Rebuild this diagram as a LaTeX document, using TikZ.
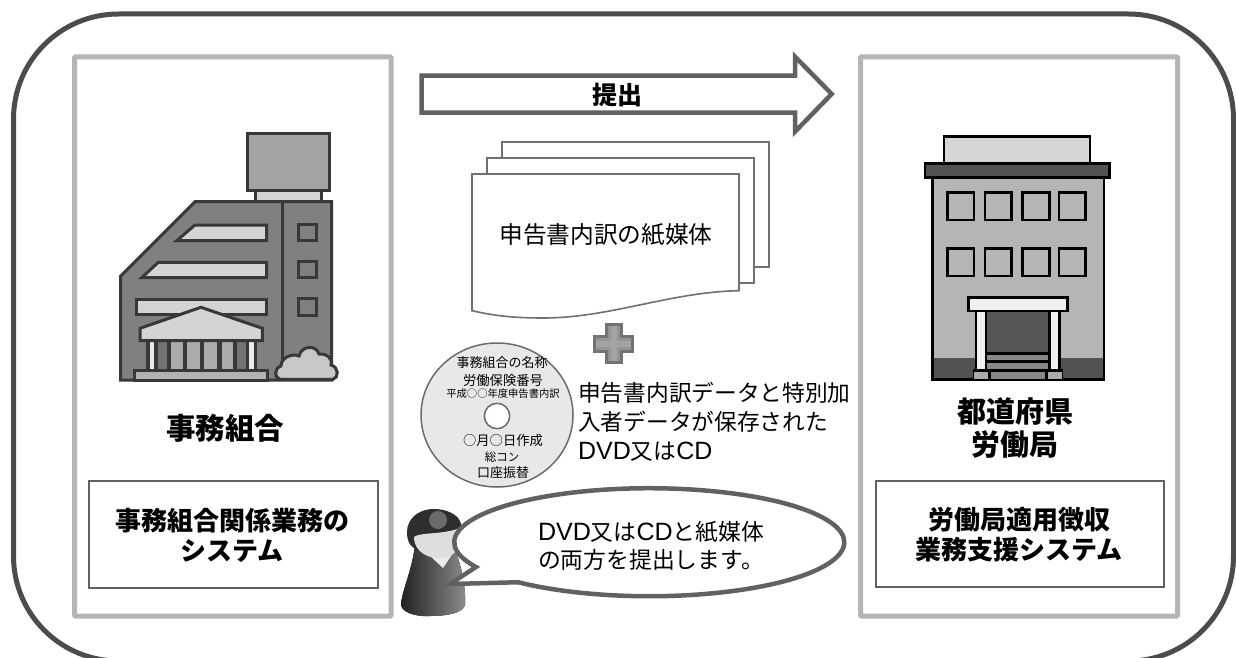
\documentclass[tikz,border=0pt]{standalone}
\usepackage{fontspec}
\setmainfont{Noto Sans CJK JP}
\newfontfamily\latn[Scale=1.1]{Liberation Sans}
\tikzset{
 x=1pt,y=-1pt,
 lbl/.style={inner sep=0pt,align=center,text=black,font=\fontsize{22}{28}\selectfont},
 lblb/.style={lbl,font=\fontsize{26}{30}\selectfont\bfseries},
 lblc/.style={lbl,font=\fontsize{12.5}{14}\selectfont},
 panel/.style={draw=black!29,line width=5pt,fill=white,rounded corners=1pt},
 sysbox/.style={draw=black!62,line width=1.6pt,fill=white},
 paper/.style={draw=black!56,line width=1.6pt,fill=white},
 bA/.style={draw=black!78,line width=3pt,line join=miter},
 bB/.style={draw=black,line width=2.6pt,line join=miter},
}
\begin{document}
\begin{tikzpicture}
\useasboundingbox (0,0) rectangle (1236,658);
\clip (0,0) rectangle (1236,658);
\fill[white] (0,0) rectangle (1236,658);
% outer frame
\draw[draw=black!70,line width=5pt,rounded corners=105pt] (13.5,14) rectangle (1233.5,661);
% panels
\draw[panel] (74.5,57) rectangle (391,616);
\draw[panel] (860.5,57) rectangle (1177.5,616);
\node[sysbox,minimum width=289pt,minimum height=107pt,anchor=north west] (sysL) at (88,480) {};
\node[sysbox,minimum width=288pt,minimum height=106pt,anchor=north west] (sysR) at (875,480) {};
\node[lblb] at (232,535) {事務組合関係業務の\\システム};
\node[lblb] at (1019,535) {労働局適用徴収\\業務支援システム};
\node[lbl,font=\fontsize{29.5}{34}\selectfont\bfseries] (orgL) at (225,428) {事務組合};
\node[lbl,font=\fontsize{29}{33}\selectfont\bfseries] (orgR) at (1015,428) {都道府県\\労働局};
% submission arrow
\draw[draw=black!62,line width=4.5pt,fill=white,line join=miter]
 (421.7,75.7) -- (795,75.7) -- (795,56.7) -- (831.7,94) -- (795,131.7) -- (795,112.7) -- (421.7,112.7) -- cycle;
\node[lblb,font=\fontsize{25}{30}\selectfont\bfseries] (submit) at (617,95) {提出};
% paper stack
\draw[paper] (502,141.7) rectangle (769,266.7);
\draw[paper] (487,158) rectangle (754,283);
\draw[paper] (472,174) -- (739,174) -- (739,290.7)
 .. controls (670,292) and (610,318) .. (543,318) .. controls (515,318) and (495,316) .. (472,310.7) -- cycle;
\node[lbl,font=\fontsize{23.7}{28}\selectfont] (paperT) at (606,235) {申告書内訳の紙媒体};
% plus
\draw[draw=black!55,fill=black!42,line width=3pt]
 (606,324) -- (621.7,324) -- (621.7,336) -- (632.7,336) -- (632.7,351.7) -- (621.7,351.7) -- (621.7,362.7)
 -- (606,362.7) -- (606,351.7) -- (594,351.7) -- (594,336) -- (606,336) -- cycle;
\fill[black!36] (611,326) rectangle (616.5,361);
\fill[black!36] (596,341) rectangle (631,346.5);
% disc
\draw[draw=black!58,fill=black!9,line width=1.5pt] (497,415) ellipse [x radius=76pt,y radius=72pt];
\draw[draw=black!58,fill=white,line width=1.5pt] (497,416) circle (12.7pt);
\node[lblc,font=\fontsize{13}{14}\selectfont] at (502,363) {事務組合の名称};
\node[lblc,font=\fontsize{13.3}{14}\selectfont] at (503,380) {労働保険番号};
\node[lblc,font=\fontsize{10.3}{12}\selectfont] at (503,394) {平成○○年度申告書内訳};
\node[lblc,font=\fontsize{13.3}{14}\selectfont] at (503,440) {○月○日作成};
\node[lblc,font=\fontsize{11.5}{14}\selectfont] at (502,457) {総コン};
\node[lblc,font=\fontsize{13}{14}\selectfont] at (503,473) {口座振替};
% disc caption
\node[lbl,anchor=west,align=left,font=\fontsize{22.7}{29}\selectfont] (cap) at (578,422) {申告書内訳データと特別加\\入者データが保存された\\{\latn DVD}又は{\latn CD}};
% person
\fill[left color=black!88,right color=black!45] (415,545) .. controls (412,570) and (404,585) .. (401,603)
 .. controls (400,612) and (415,617) .. (430,616) .. controls (447,616) and (463,613) .. (465,605)
 .. controls (466,590) and (462,565) .. (454,548) -- cycle;
\fill[black!8] (427,553) -- (443,568) -- (453,553) -- cycle;
\fill[black!82] (434,509) .. controls (417,509) and (407,520) .. (407,532) .. controls (407,544) and (412,547) .. (417,550)
 -- (458,540) .. controls (462,532) and (463,524) .. (458,518) .. controls (453,512) and (443,509) .. (434,509) -- cycle;
\fill[black!58] (438,520) circle (9pt);
\fill[black!13] (414,537) .. controls (420,532) and (442,535) .. (460,528) .. controls (464,540) and (458,552) .. (450,556)
 .. controls (438,562) and (414,556) .. (414,537) -- cycle;
% speech bubble
\draw[draw=black!62,line width=4.5pt,fill=white,line join=miter] (476,567)
 arc[start angle=207.3,end angle=-132.2,x radius=195pt,y radius=54pt] -- (450,584) -- cycle;
\node[lbl,font=\fontsize{22.8}{28.5}\selectfont] (say) at (651,546) {{\latn DVD}又は{\latn CD}と紙媒体\\の両方を提出します。};
% left building
\draw[bA,fill=black!36] (247.7,133.3) rectangle (329.3,190.7);
\draw[bA,fill=black!17] (255,190.7) rectangle (321.7,201);
\draw[bA,fill=black!50] (120.7,276) -- (195,201.7) -- (331.7,201.7) -- (331.7,380) -- (120.7,380) -- cycle;
\draw[bA] (282.7,201.7) -- (282.7,365);
\draw[bA,fill=black!17] (176.7,240.7) -- (195,225) -- (266.7,225) -- (266.7,240.7) -- cycle;
\draw[bA,fill=black!17] (141.7,277.7) -- (158.3,262.3) -- (266.7,262.3) -- (266.7,277.7) -- cycle;
\draw[bA,fill=black!17] (136,299) rectangle (266.7,314.3);
\draw[bA,fill=black!50] (298.3,224.3) rectangle (316,240.7);
\draw[bA,fill=black!50] (298.3,261.7) rectangle (316,277.3);
\draw[bA,fill=black!50] (298.3,298.3) rectangle (316,315);
\fill[black!78] (146,340) rectangle (257,371);
\fill[black!8] (150,341) rectangle (154,370);
\fill[black!55] (158.3,341) rectangle (166.7,370);
\fill[black!33] (170.7,341) rectangle (183.3,370);
\fill[black!33] (187.3,341) rectangle (200,370);
\fill[black!33] (204,341) rectangle (216.7,370);
\fill[black!33] (221.7,341) rectangle (233.3,370);
\fill[black!55] (237.3,341) rectangle (245.7,370);
\fill[black!8] (249,341) rectangle (254,370);
\draw[bA,fill=black!17] (140,328.3) -- (201,307.3) -- (262.3,328.3) -- (262.3,340.7) -- (140,340.7) -- cycle;
\draw[bA,fill=black!30] (134.3,370) rectangle (267.7,380);
\draw[bA,fill=black!22] (280,379.3) .. controls (274,378) and (274,368) .. (281,366)
 .. controls (281,358) and (291,353) .. (299,356) .. controls (301,346) and (316,344) .. (319,354)
 .. controls (326,353) and (333,358) .. (331,365) .. controls (339,367) and (339,378) .. (333,379.3) -- cycle;
% right building
\draw[bB,fill=black!16] (944,136.7) rectangle (1090,163.3);
\draw[bB,fill=black!29] (932.3,177.7) rectangle (1104,379.3);
\draw[bB,fill=black!68] (925,163.3) rectangle (1109.3,177.7);
\fill[black!68] (933.5,357.7) rectangle (1102.7,378);
\foreach \xa/\xb in {947.3/974,985/1011.7,1022.7/1049.3,1059/1085.7}{
 \draw[bB,fill=black!29] (\xa,192.7) rectangle (\xb,220);
 \draw[bB,fill=black!29] (\xa,248.7) rectangle (\xb,276);
}
\draw[bB,fill=black!66] (986,311) rectangle (1049.3,353.3);
\draw[bB,fill=black!47] (986,353.3) rectangle (1049.3,361.7);
\draw[bB,fill=black!47] (986,361.7) rectangle (1049.3,370);
\draw[bB,fill=black!6] (976,311) rectangle (986,370);
\draw[bB,fill=black!6] (1049.3,311) rectangle (1059.3,370);
\draw[bB,fill=black!6] (968.3,297.7) rectangle (1067.7,311);
\fill[black] (972.7,368.7) rectangle (1063.3,380.5);
\fill[black!33] (974,372) rectangle (988,378.5);
\fill[black!47] (991,372) rectangle (1045,378.5);
\fill[black!33] (1047.5,372) rectangle (1062,378.5);
\end{tikzpicture}
\end{document}
